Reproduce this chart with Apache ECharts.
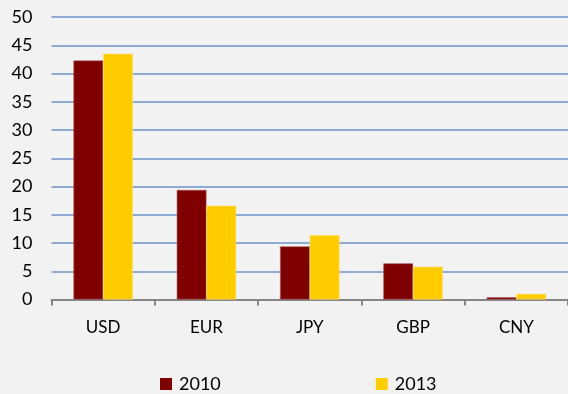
<!DOCTYPE html>
<html>
<head>
<meta charset="utf-8">
<script src="https://cdn.jsdelivr.net/npm/echarts@6/dist/echarts.min.js"></script>
<style>
html,body{margin:0;padding:0;background:#f2f2f2;}
#chart{width:568px;height:394px;}
</style>
</head>
<body>
<div id="chart"></div>
<script>
// Currency shares, 2010 vs 2013
const currencies = ['USD', 'EUR', 'JPY', 'GBP', 'CNY'];
const share2010 = [42.3, 19.4, 9.4, 6.4, 0.4];
const share2013 = [43.5, 16.6, 11.4, 5.8, 1.0];
const seriesNames = ['2010', '2013'];
const yTicks = { min: 0, max: 50, interval: 5 };

const font = 'Lato, "Open Sans", sans-serif';
const chart = echarts.init(document.getElementById('chart'));
chart.setOption({
  backgroundColor: '#f2f2f2',
  animation: false,
  textStyle: { fontFamily: font },
  grid: { left: 51.5, right: 0, top: 17, bottom: 94.5 },
  legend: {
    top: 370,
    left: 155,
    icon: 'rect',
    itemWidth: 12,
    itemHeight: 12,
    itemGap: 155,
    itemStyle: { borderWidth: 0 },
    textStyle: { fontSize: 18, color: '#000', fontFamily: font, padding: [0, 0, 0, 2] },
    data: seriesNames
  },
  xAxis: {
    type: 'category',
    data: currencies,
    axisLine: { lineStyle: { color: '#868686', width: 2 } },
    axisTick: { show: true, length: 6, lineStyle: { color: '#868686', width: 2 } },
    axisLabel: { fontSize: 17, color: '#000', margin: 20, fontFamily: font }
  },
  yAxis: {
    type: 'value',
    min: yTicks.min,
    max: yTicks.max,
    interval: yTicks.interval,
    axisLine: { show: false },
    axisTick: { show: false },
    axisLabel: { fontSize: 18, color: '#000', margin: 19, fontFamily: font },
    splitLine: { lineStyle: { color: '#6d93c6', width: 1.5 } }
  },
  series: [
    {
      name: seriesNames[0],
      type: 'bar',
      data: share2010,
      barGap: '0%',
      barCategoryGap: '42.5%',
      itemStyle: { color: '#7f0000', borderColor: '#a85c5c', borderWidth: 0.6 }
    },
    {
      name: seriesNames[1],
      type: 'bar',
      data: share2013,
      itemStyle: { color: '#ffcc00', borderColor: '#ffe066', borderWidth: 0.6 }
    }
  ]
});
</script>
</body>
</html>
